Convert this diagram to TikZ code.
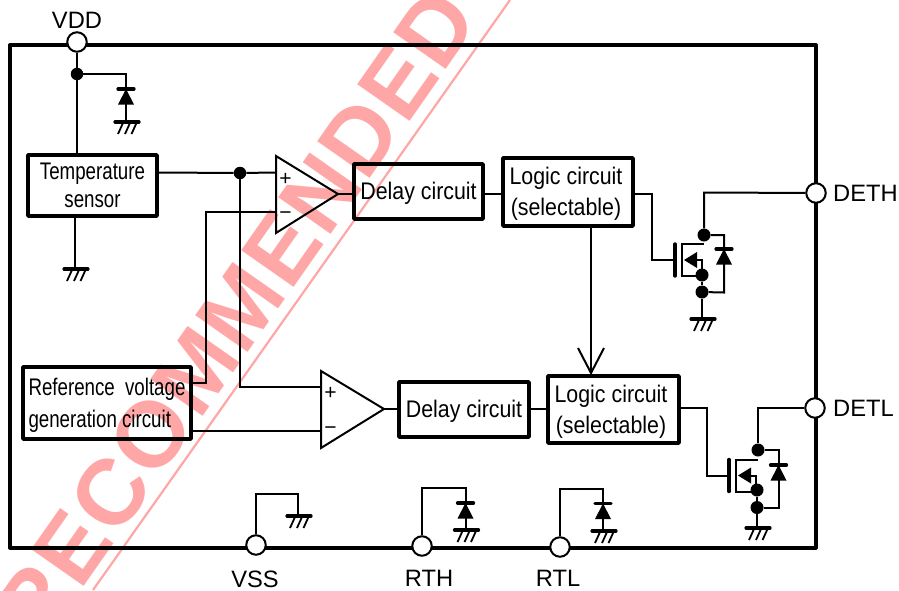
\documentclass[tikz,border=0pt]{standalone}
\usepackage{fontspec}
\setmainfont{Liberation Sans}
\newfontfamily\narrowf[FakeStretch=0.89]{Liberation Sans}
\newfontfamily\tightf[FakeStretch=0.78]{Liberation Sans}
\newfontfamily\markf[LetterSpace=2]{Liberation Sans Bold}
\newcommand\liftline[1]{\rule{0pt}{#1pt}}
\usetikzlibrary{arrows.meta}
\definecolor{wm}{HTML}{FFA6A6}
\tikzset{
  x=1pt,y=-1pt,
  wire/.style={line width=2pt,line join=miter},
  frame/.style={draw,line width=4pt,line join=round},
  blockbox/.style={draw,line width=3.6pt,line join=round,inner sep=0pt,font=\narrowf\fontsize{24}{31}\selectfont,align=center},
  pin/.style={circle,draw,fill=white,line width=2pt,minimum size=19.5pt,inner sep=0pt},
  dot/.style={circle,fill=black,minimum size=12.5pt,inner sep=0pt},
  lbl/.style={font=\fontsize{23.7}{24}\selectfont,inner sep=0pt},
  sign/.style={font=\fontsize{21}{22}\selectfont,inner sep=0pt},
  opamp/.style={draw,line width=2pt,line join=miter},
  gnd/.pic={
    \draw[line width=3.2pt,line cap=round] (-11,0) -- (13,0);
    \draw[line width=1.8pt] (-3,1) -- (-8,12) (4,1) -- (-1,12) (10.5,1) -- (5.5,12);
  },
  diode/.pic={
    \draw[line width=3.2pt,line cap=round] (-8,0) -- (8,0);
    \fill (0,0) -- (8,15.5) -- (-8,15.5) -- cycle;
  },
  fet/.pic={
    \draw[line width=3.4pt,line cap=round] (0,-16) -- (0,16);
    \draw[line width=2pt,line join=miter] (29,-16) -- (7,-16) -- (7,16) -- (27,16);
    \fill (9,0) -- (22,-8) -- (22,8) -- cycle;
    \draw[line width=2pt,line join=miter] (20,0) -- (27,0) -- (27,16);
  }
}
\begin{document}
\begin{tikzpicture}
\useasboundingbox (0,0) rectangle (899,590);
% watermark
\begin{scope}
\clip (0,0) rectangle (899,590);
\coordinate (wa) at (93,590);
\coordinate (wb) at (510,0);
\draw[wm,line width=2.2pt] (wa) -- (wb);
\node[wm,rotate=55,anchor=base east,inner sep=0pt,font=\markf\fontsize{93}{93}\selectfont] (mark) at (481.6,19) {RECOMMENDED};
\end{scope}
% frame
\draw[frame] (10,45) rectangle (815.5,547.5);
% pins
\node[pin] (vdd) at (77,42) {};
\node[pin] (deth) at (816,193) {};
\node[pin] (detl) at (815,408) {};
\node[pin] (vss) at (256,545) {};
\node[pin] (rth) at (422,546) {};
\node[pin] (rtl) at (560,547) {};
\node[lbl] (lvdd) at (77,20) {VDD};
\node[lbl,anchor=west] (ldeth) at (833,193.5) {DETH};
\node[lbl,anchor=west] (ldetl) at (833,408.5) {DETL};
\node[lbl] (lvss) at (255,579) {VSS};
\node[lbl] (lrth) at (429,578) {RTH};
\node[lbl] (lrtl) at (558,578) {RTL};
% blocks
\node[blockbox,minimum width=129pt,minimum height=61pt,font=\tightf\fontsize{24}{28}\selectfont] (temp) at (92.5,185.5) {Temperature\\sensor};
\node[blockbox,minimum width=129pt,minimum height=55pt] (delaya) at (418.5,191.5) {\liftline{20}Delay circuit};
\node[blockbox,minimum width=130pt,minimum height=68pt] (logica) at (568,192) {\liftline{21}Logic circuit\hspace*{4pt}\\(selectable)\hspace*{4pt}};
\node[blockbox,minimum width=130pt,minimum height=55pt] (delayb) at (464,409.5) {\liftline{20}Delay circuit};
\node[blockbox,minimum width=131pt,minimum height=67pt] (logicb) at (613.5,409.5) {\liftline{21}Logic circuit\hspace*{5pt}\\(selectable)\hspace*{5pt}};
\node[blockbox,minimum width=168pt,minimum height=72pt,align=left,font=\tightf\fontsize{24}{32}\selectfont] (refv) at (107,403) {\makebox[157pt][s]{\liftline{22}Reference\hfil voltage}\\generation circuit};
% op amps
\coordinate (oat) at (276,156);
\coordinate (oab) at (276,233);
\coordinate (oa) at (338,194);
\coordinate (obt) at (321,371);
\coordinate (obb) at (321,448);
\coordinate (ob) at (384,409);
\draw[opamp] (oat) -- (oab) -- (oa) -- cycle;
\draw[opamp] (obt) -- (obb) -- (ob) -- cycle;
\node[sign] (pa) at (285.5,179) {+};
\node[sign] (ma) at (285.5,216) {−};
\node[sign] (pb) at (330.5,393) {+};
\node[sign] (mb) at (330.5,431) {−};
% VDD branch
\node[dot] (dv) at (77,74) {};
\coordinate (gv) at (126,122);
\coordinate (gt) at (75,269);
\draw[wire] (vdd) -- (dv) -- (77,155.5);
\draw[wire] (dv) -| (gv);
\pic at (126,89) {diode};
\pic at (gv) {gnd};
\draw[wire] (75,216) -- (gt);
\pic at (gt) {gnd};
% inputs
\node[dot] (da) at (240,173) {};
\draw[wire] (157,172.5) -- (da) -- (276,172.5);
\draw[wire] (239.5,173) -- (239.5,386.5) -- (321,386.5);
\draw[wire] (191,383) -- (206,383) -- (206,212) -- (276,212);
\draw[wire] (191,431) -- (321,431);
% outputs
\draw[wire] (oa) -- (delaya.west |- oa);
\draw[wire] (ob) -- (delayb.west |- ob);
\draw[wire] (delaya.east |- 0,194) -- (logica.west |- 0,194);
\draw[wire] (delayb.east |- 0,409) -- (logicb.west |- 0,409);
\draw[wire] (logica.east |- 0,194) -- (652,194) -- (652,260) -- (675,260);
\draw[wire] (logicb.east |- 0,408) -- (706.5,408) -- (706.5,475.5) -- (729,475.5);
\draw[wire] (591,226) -- (591,372);
\draw[wire] (578,348) -- (591,373) -- (604,348);
% FET high
\pic at (675,260) {fet};
\node[dot,minimum size=13pt] (dh1) at (704,235) {};
\node[dot,minimum size=13pt] (dh2) at (702,275) {};
\node[dot,minimum size=13pt] (dh3) at (702,292) {};
\coordinate (gh) at (702,319);
\draw[wire] (deth) -- (704,192.5) -- (dh1);
\draw[wire] (dh1) -- (724,235) -- (724,292.5) -- (dh3);
\draw[wire] (dh2) -- (dh3) -- (gh);
\pic at (724,249) {diode};
\pic at (gh) {gnd};
% FET low
\pic at (729,475.5) {fet};
\node[dot,minimum size=13pt] (dl1) at (758,450) {};
\node[dot,minimum size=13pt] (dl2) at (757,490) {};
\node[dot,minimum size=13pt] (dl3) at (757,507.5) {};
\coordinate (gl) at (757,528);
\draw[wire] (detl) -- (758,408) -- (dl1);
\draw[wire] (dl1) -- (778.5,450) -- (778.5,507.5) -- (dl3);
\draw[wire] (dl2) -- (dl3) -- (gl);
\pic at (778.5,465) {diode};
\pic at (gl) {gnd};
% bottom pins
\coordinate (gs) at (298,516);
\coordinate (gr) at (465.5,530);
\coordinate (gq) at (603,531);
\draw[wire] (vss) -- (256,494) -- (298,494) -- (gs);
\pic at (gs) {gnd};
\draw[wire] (rth) -- (422,488) -- (465.5,488) -- (gr);
\pic at (465.5,503) {diode};
\pic at (gr) {gnd};
\draw[wire] (rtl) -- (560,489) -- (603,489) -- (gq);
\pic at (603,503.5) {diode};
\pic at (gq) {gnd};
\end{tikzpicture}
\end{document}
